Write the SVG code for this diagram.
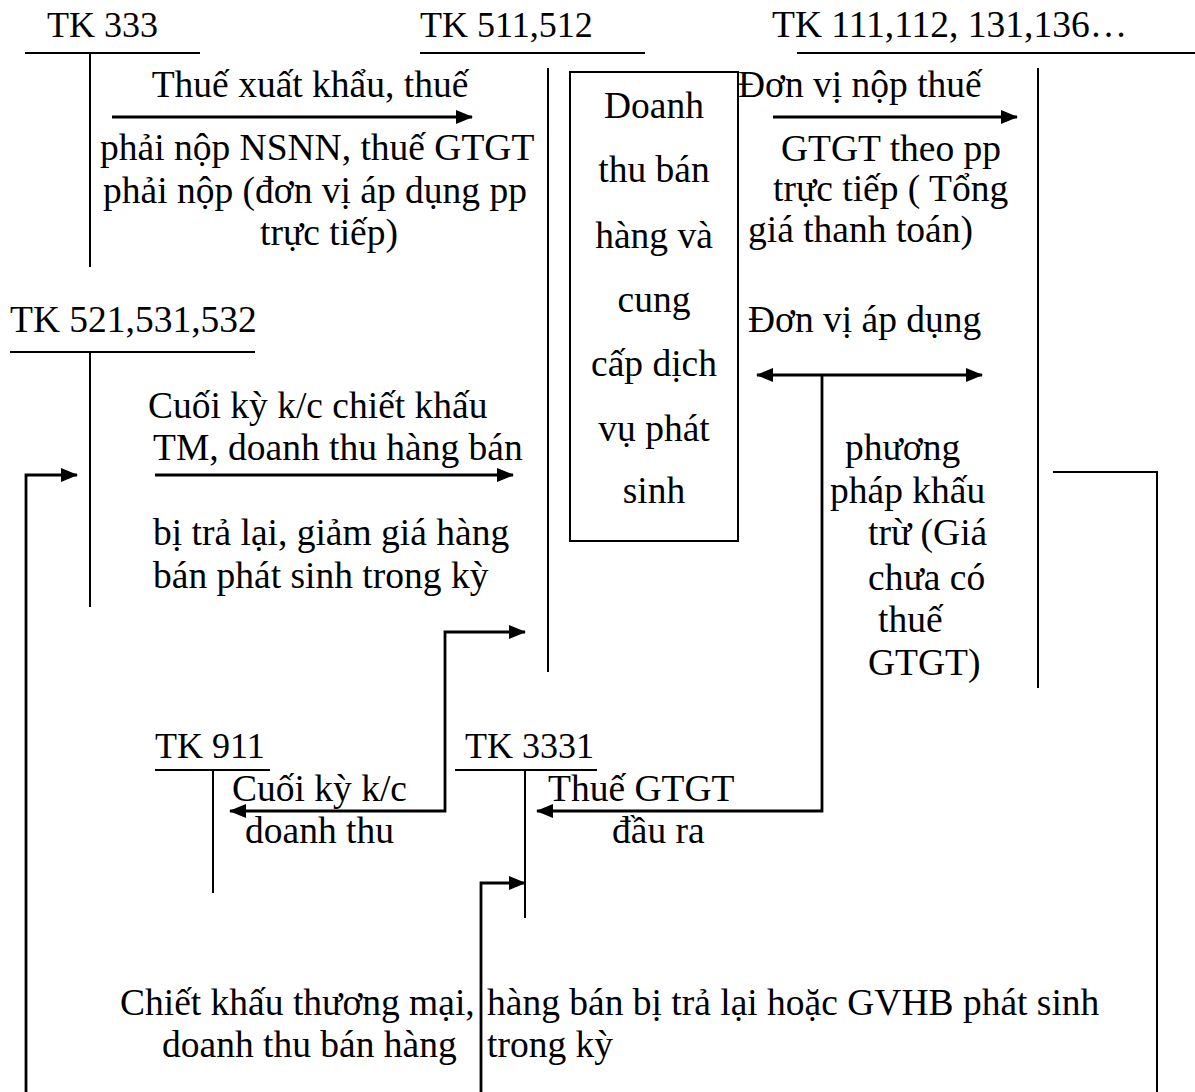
<svg xmlns="http://www.w3.org/2000/svg" width="1195" height="1092" viewBox="0 0 1195 1092">
  <style>
    text { font-family: "Liberation Serif", "Times New Roman", serif; font-size: 37.5px; fill: #000; }
    text.head { font-size: 36px; }
    .mid { text-anchor: middle; }
    .acct { stroke: #000; stroke-width: 2; fill: none; }
    .flow { stroke: #000; stroke-width: 2.8; fill: none; }
    .box { stroke: #000; stroke-width: 2; fill: #fff; }
  </style>
  <defs>
    <marker id="arr" markerUnits="userSpaceOnUse" markerWidth="17" markerHeight="14" refX="16" refY="7" orient="auto-start-reverse">
      <path d="M0,0 L17,7 L0,14 z" fill="#000"/>
    </marker>
  </defs>

  <!-- TK 333 -->
  <g id="tk333">
    <text class="head" x="47" y="37">TK 333</text>
    <path class="acct" d="M25,53 H200 M90,53 V267"/>
  </g>

  <!-- TK 511,512 with the revenue box -->
  <g id="tk511">
    <text class="head" x="420" y="37">TK 511,512</text>
    <path class="acct" d="M420,53 H645 M548,68 V672"/>
  </g>
  <g id="revenue-box">
    <rect class="box" x="570" y="72" width="168" height="469"/>
    <text class="mid" x="654" y="118">Doanh</text>
    <text class="mid" x="654" y="182">thu bán</text>
    <text class="mid" x="654" y="248">hàng và</text>
    <text class="mid" x="654" y="312">cung</text>
    <text class="mid" x="654" y="376">cấp dịch</text>
    <text class="mid" x="654" y="441">vụ phát</text>
    <text class="mid" x="654" y="503">sinh</text>
  </g>

  <!-- TK 111,112,131,136 -->
  <g id="tk111">
    <text x="772" y="37">TK 111,112, 131,136…</text>
    <path class="acct" d="M797,53 H1195 M1038,68 V688"/>
  </g>

  <!-- TK 521,531,532 -->
  <g id="tk521">
    <text x="10" y="332">TK 521,531,532</text>
    <path class="acct" d="M10,352 H255 M90,352 V607"/>
  </g>

  <!-- TK 911 -->
  <g id="tk911">
    <text class="head" x="155" y="758">TK 911</text>
    <path class="acct" d="M155,770 H270 M213,770 V893"/>
  </g>

  <!-- TK 3331 -->
  <g id="tk3331">
    <text class="head" x="465" y="758">TK 3331</text>
    <path class="acct" d="M455,770 H597 M525,770 V918"/>
  </g>

  <!-- Connectors -->
  <g id="connectors">
    <!-- 511 -> 333 -->
    <path class="flow" d="M112,117 H472" marker-end="url(#arr)"/>
    <!-- 511 -> 111 (direct method) -->
    <path class="flow" d="M773,117 H1017" marker-end="url(#arr)"/>
    <!-- deduction method split -->
    <path class="flow" d="M757,375 H982" marker-start="url(#arr)" marker-end="url(#arr)"/>
    <path class="flow" d="M822,375 V811 H537" marker-end="url(#arr)"/>
    <!-- 521 -> 511 -->
    <path class="flow" d="M155,475 H513" marker-end="url(#arr)"/>
    <!-- 511 -> 911 -->
    <path class="flow" d="M525,632 H445 V811 H230" marker-start="url(#arr)" marker-end="url(#arr)"/>
    <!-- 111 -> 521 / 3331 -->
    <path class="acct" d="M1053,472 H1157 V1092"/>
    <path class="flow" d="M26,1092 V475 H77" marker-end="url(#arr)"/>
    <path class="flow" d="M481,1092 V883 H525" marker-end="url(#arr)"/>
  </g>

  <!-- Labels -->
  <g id="labels">
    <text class="mid" x="310" y="97">Thuế xuất khẩu, thuế</text>
    <text x="100" y="160">phải nộp NSNN, thuế GTGT</text>
    <text x="103" y="203">phải nộp (đơn vị áp dụng pp</text>
    <text x="260" y="245">trực tiếp)</text>

    <text x="738" y="97">Đơn vị nộp thuế</text>
    <text x="781" y="161">GTGT theo pp</text>
    <text x="773" y="201">trực tiếp ( Tổng</text>
    <text x="748" y="242">giá thanh toán)</text>

    <text x="748" y="332">Đơn vị áp dụng</text>
    <text x="845" y="460">phương</text>
    <text x="830" y="503">pháp khấu</text>
    <text x="868" y="545">trừ (Giá</text>
    <text x="868" y="590">chưa có</text>
    <text x="878" y="632">thuế</text>
    <text x="868" y="675">GTGT)</text>

    <text x="148" y="418">Cuối kỳ k/c chiết khấu</text>
    <text x="153" y="460">TM, doanh thu hàng bán</text>
    <text x="153" y="545">bị trả lại, giảm giá hàng</text>
    <text x="153" y="588">bán phát sinh trong kỳ</text>

    <text x="232" y="801">Cuối kỳ k/c</text>
    <text x="245" y="843">doanh thu</text>
    <text x="548" y="801">Thuế GTGT</text>
    <text x="612" y="843">đầu ra</text>

    <text x="120" y="1015">Chiết khấu thương mại,</text>
    <text x="162" y="1057">doanh thu bán hàng</text>
    <text x="487" y="1015">hàng bán bị trả lại hoặc GVHB phát sinh</text>
    <text x="487" y="1057">trong kỳ</text>
  </g>
</svg>
